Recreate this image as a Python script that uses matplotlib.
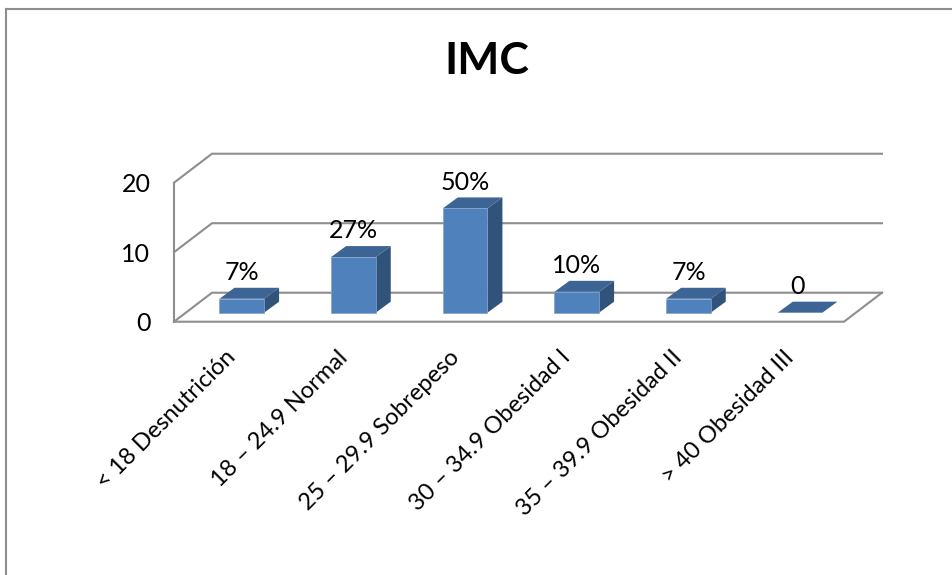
import matplotlib
matplotlib.use('Agg')
import matplotlib.pyplot as plt
from matplotlib.lines import Line2D
from matplotlib.transforms import ScaledTranslation

plt.rcParams['font.family'] = ['Lato', 'DejaVu Sans']

## Datos ##
categorias = ['< 18 Desnutrición', '18 – 24.9 Normal', '25 – 29.9 Sobrepeso',
              '30 – 34.9 Obesidad I', '35 – 39.9 Obesidad II', '> 40 Obesidad III']
valores = [2, 8, 15, 3, 2, 0]
etiquetas = ['7%', '27%', '50%', '10%', '7%', '0']
marcas_y = [0, 10, 20]

color_frente = '#4F81BD'
color_arriba = '#3C6494'
color_lado = '#315279'
color_eje = '#8E8E8E'

# profundidad del grafico en unidades de datos
prof_x, prof_y = 0.34, 4.17
# posicion y profundidad de las barras dentro del piso
base_x, base_y = 0.107, 1.3
barra_dx, barra_dy = 0.134, 1.58
ancho = 0.4

fig = plt.figure(figsize=(9.53, 5.75), dpi=100)
ax = fig.add_axes([174 / 953, (575 - 321.7) / 575, 670 / 953, 139 / 575])
ax.set_xlim(0, 6)
ax.set_ylim(0, 20)
for s in ax.spines.values():
    s.set_visible(False)

# paredes y lineas de la cuadricula
for m in marcas_y:
    ax.plot([0, prof_x, 6 + prof_x], [m, m + prof_y, m + prof_y], color=color_eje,
            lw=1.5, clip_on=False, zorder=1, solid_joinstyle='miter')
ax.plot([0, 0], [0, 20], color=color_eje, lw=1.5, clip_on=False, zorder=2)
ax.plot([0, 6, 6 + prof_x], [0, 0, prof_y], color=color_eje, lw=1.5, clip_on=False, zorder=2)

# barras: frente, tapa y costado
for i, v in enumerate(valores):
    x0 = i + 0.5 + base_x - ancho / 2
    x1 = x0 + ancho
    y0 = base_y
    y1 = base_y + v
    ax.fill([x1, x1 + barra_dx, x1 + barra_dx, x1],
            [y0, y0 + barra_dy, y1 + barra_dy, y1], color=color_lado, lw=0, clip_on=False, zorder=3)
    ax.fill([x0, x1, x1 + barra_dx, x0 + barra_dx],
            [y1, y1, y1 + barra_dy, y1 + barra_dy], color=color_arriba, lw=0, clip_on=False, zorder=3)
    if v > 0:
        ax.bar(x0, v, width=ancho, bottom=y0, align='edge', color=color_frente,
               edgecolor='#7FA3D0', linewidth=0.5, clip_on=False, zorder=4)
    ax.text(x0 + ancho / 2 - (0.025 if v == 0 else 0), y1 + barra_dy + 2.2, etiquetas[i],
            ha='center', va='center', fontsize=18, color='black', zorder=5)

ax.set_yticks(marcas_y)
ax.set_yticklabels([str(m) for m in marcas_y], fontsize=18)
ax.tick_params(axis='y', length=0, pad=17)

ax.set_xticks([i + 0.5 for i in range(6)])
ax.set_xticklabels(categorias, rotation=45, ha='right', rotation_mode='anchor', fontsize=17)
ax.tick_params(axis='x', length=0, pad=18)
desplazar = ScaledTranslation(-5 / 100, 0, fig.dpi_scale_trans)
for t in ax.get_xticklabels():
    t.set_transform(t.get_transform() + desplazar)

fig.text(487 / 953, 1 - 61 / 575, 'IMC', ha='center', va='center', fontsize=32,
         fontweight='bold', color='black')

# borde del area del grafico
fig.add_artist(Line2D([6 / 953, 6 / 953], [0, 1 - 9 / 575], color=color_eje, lw=1.5))
fig.add_artist(Line2D([6 / 953, 1], [1 - 9 / 575, 1 - 9 / 575], color=color_eje, lw=1.5))

fig.savefig('out.png', dpi=100)
